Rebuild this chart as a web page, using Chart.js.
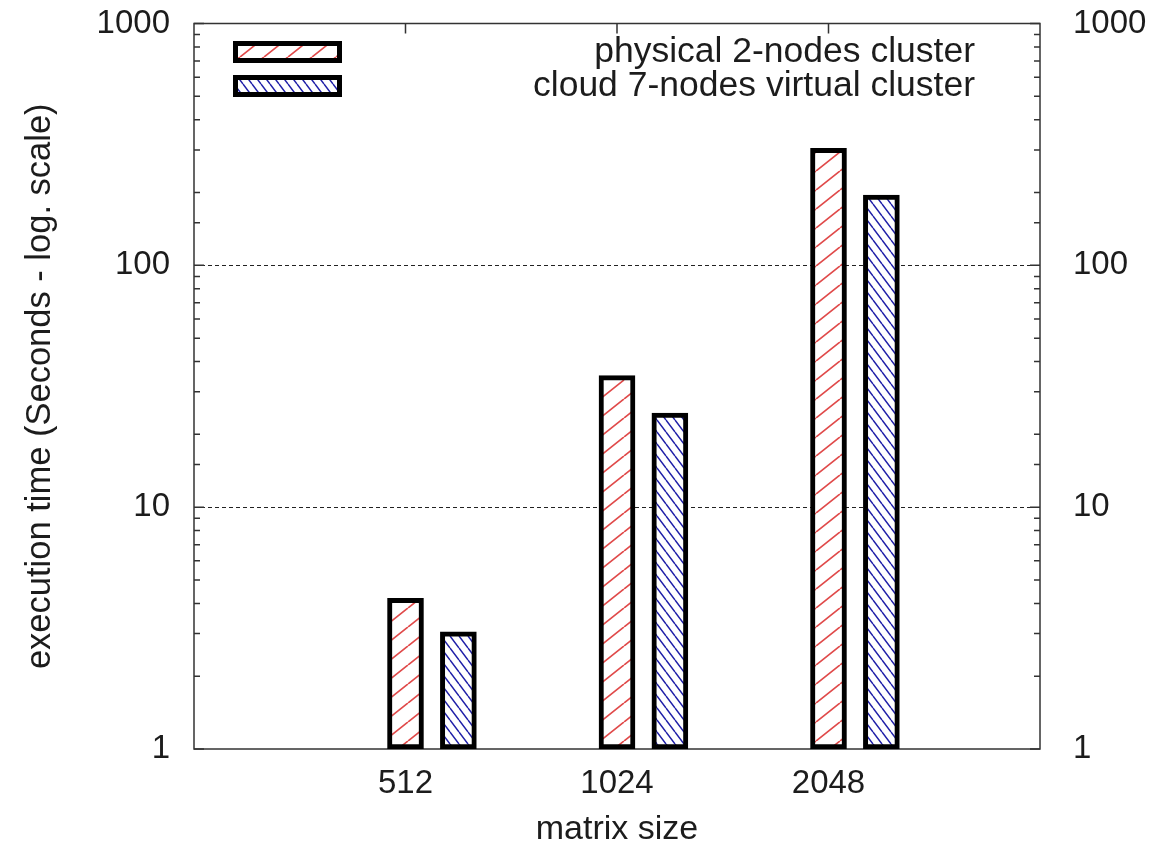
<!DOCTYPE html>
<html>
<head>
<meta charset="utf-8">
<script src="https://cdn.jsdelivr.net/npm/chart.js@4.4.1/dist/chart.umd.min.js"></script>
<style>
  html, body { margin: 0; padding: 0; background: #fff; }
  #wrap { width: 1151px; height: 850px; }
</style>
</head>
<body>
<div id="wrap"><canvas id="c" width="1151" height="850"></canvas></div>
<script>
// Matrix multiplication run times, seconds
const matrixSizes = ['512', '1024', '2048'];
const physicalSeconds = [4.2, 35, 305];
const cloudSeconds = [3.05, 24.5, 195];
const yTickValues = [1, 10, 100, 1000];
const seriesNames = ['physical 2-nodes cluster', 'cloud 7-nodes virtual cluster'];

const TEXT = '#1c1c1c';
const FONT = 'Liberation Sans, Arial, Helvetica, sans-serif';
const PAIR_SHIFT = 0.25;   // second bar of each pair sits a quarter unit right

// Hatched fills on a white ground
function hatch(w, h, color, dir, lw) {
  const c = document.createElement('canvas');
  c.width = w; c.height = h;
  const g = c.getContext('2d');
  g.fillStyle = '#fff';
  g.fillRect(0, 0, w, h);
  g.strokeStyle = color;
  g.lineWidth = lw;
  g.beginPath();
  for (let k = -1; k <= 1; k++) {
    if (dir === '/') { g.moveTo(k * w, h); g.lineTo(k * w + w, 0); }
    else { g.moveTo(k * w, 0); g.lineTo(k * w + w, h); }
  }
  g.stroke();
  return g.createPattern(c, 'repeat');
}
const redHatch = hatch(24, 19, '#e04a4a', '/', 1.7);
const blueHatch = hatch(9, 12, '#2020a8', '\\', 1.5);

const isDecade = v => Math.abs(Math.log10(v) - Math.round(Math.log10(v))) < 1e-9;

// Border box plus inward tick marks on all four sides
const framePlugin = {
  id: 'frame',
  beforeDatasetsDraw(chart) {
    const { ctx, chartArea: a, scales: { x, y } } = chart;
    ctx.save();
    ctx.strokeStyle = '#333';
    ctx.lineWidth = 1.5;
    ctx.strokeRect(a.left, a.top, a.right - a.left, a.bottom - a.top);
    ctx.beginPath();
    y.ticks.forEach(t => {
      const py = y.getPixelForValue(t.value);
      const len = isDecade(t.value) ? 10 : 6;
      ctx.moveTo(a.left, py); ctx.lineTo(a.left + len, py);
      ctx.moveTo(a.right, py); ctx.lineTo(a.right - len, py);
    });
    x.ticks.forEach(t => {
      const px = x.getPixelForValue(t.value);
      ctx.moveTo(px, a.top); ctx.lineTo(px, a.top + 10);
      ctx.moveTo(px, a.bottom); ctx.lineTo(px, a.bottom - 10);
    });
    ctx.stroke();
    ctx.restore();
  }
};

// Key in the upper left: sample box on the left, right-aligned names
const keyPlugin = {
  id: 'key',
  afterDraw(chart) {
    const { ctx, chartArea: a } = chart;
    ctx.save();
    chart.data.datasets.forEach((ds, i) => {
      const bx = a.left + 39, by = a.top + 17.5 + i * 34, bw = 109, bh = 22;
      ctx.fillStyle = ds.backgroundColor;
      ctx.fillRect(bx, by, bw, bh);
      ctx.lineWidth = 5;
      ctx.strokeStyle = '#000';
      ctx.strokeRect(bx + 2.5, by + 2.5, bw - 5, bh - 5);
      ctx.fillStyle = TEXT;
      ctx.font = '35.5px ' + FONT;
      ctx.textAlign = 'right';
      ctx.textBaseline = 'middle';
      ctx.fillText(ds.label, a.left + 781, by + bh / 2);
    });
    ctx.restore();
  }
};

const barStyle = {
  borderColor: '#000',
  borderWidth: 5,
  borderSkipped: false,
  barThickness: 36,
  grouped: false
};

const yTicks = {
  autoSkip: false,
  color: TEXT,
  font: { family: FONT, size: 33 },
  callback: v => (yTickValues.some(t => Math.abs(t - v) < 1e-6) ? String(Math.round(v)) : '')
};

// Keep the plot frame where the layout padding puts it
const noEdgePadding = s => { s.paddingTop = 0; s.paddingBottom = 0; s.paddingLeft = 0; s.paddingRight = 0; };

new Chart(document.getElementById('c'), {
  type: 'bar',
  data: {
    datasets: [
      Object.assign({ label: seriesNames[0], backgroundColor: redHatch,
        data: physicalSeconds.map((v, i) => ({ x: i + 1, y: v })) }, barStyle),
      Object.assign({ label: seriesNames[1], backgroundColor: blueHatch,
        data: cloudSeconds.map((v, i) => ({ x: i + 1 + PAIR_SHIFT, y: v })) }, barStyle)
    ]
  },
  options: {
    responsive: false,
    animation: false,
    devicePixelRatio: 1,
    layout: { padding: { top: 23.5, left: 0, right: 0, bottom: 0 } },
    plugins: { legend: { display: false }, tooltip: { enabled: false } },
    scales: {
      x: {
        type: 'linear', min: 0, max: 4, offset: false, position: 'bottom',
        afterBuildTicks: s => { s.ticks = matrixSizes.map((_, i) => ({ value: i + 1 })); },
        ticks: {
          autoSkip: false, maxRotation: 0, padding: 15, color: TEXT,
          font: { family: FONT, size: 33 },
          callback: v => matrixSizes[v - 1] ?? ''
        },
        grid: { display: false, drawTicks: false },
        border: { display: false },
        title: { display: true, text: 'matrix size', color: TEXT,
                 font: { family: FONT, size: 34 }, padding: { top: 0, bottom: 0 } },
        afterFit: s => { s.height = 101; noEdgePadding(s); }
      },
      y: {
        type: 'logarithmic', min: 1, max: 1000, position: 'left',
        ticks: Object.assign({ padding: 24 }, yTicks),
        grid: {
          drawTicks: false, lineWidth: 1,
          color: c => (c.tick && (Math.abs(c.tick.value - 10) < 1e-6 || Math.abs(c.tick.value - 100) < 1e-6)) ? '#222' : 'rgba(0,0,0,0)'
        },
        border: { display: false, dash: [4, 3] },
        title: { display: true, text: 'execution time (Seconds - log. scale)', color: TEXT,
                 font: { family: FONT, size: 34.5 }, padding: { top: 20, bottom: 0 } },
        afterFit: s => { s.width = 194; noEdgePadding(s); }
      },
      y2: {
        type: 'logarithmic', min: 1, max: 1000, position: 'right',
        ticks: Object.assign({ padding: 33 }, yTicks),
        grid: { display: false, drawTicks: false },
        border: { display: false },
        afterFit: s => { s.width = 111; noEdgePadding(s); }
      }
    }
  },
  plugins: [framePlugin, keyPlugin]
});
</script>
</body>
</html>
